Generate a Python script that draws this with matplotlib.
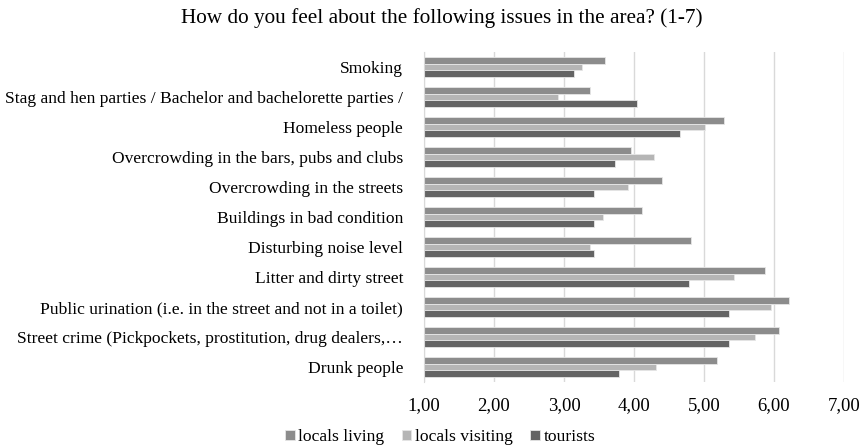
import matplotlib
matplotlib.use("Agg")
import matplotlib.pyplot as plt
import numpy as np
from matplotlib.ticker import FuncFormatter

plt.rcParams['font.family'] = ['Liberation Serif', 'DejaVu Serif']

categories = [
    "Smoking",
    "Stag and hen parties / Bachelor and bachelorette parties /",
    "Homeless people",
    "Overcrowding in the bars, pubs and clubs",
    "Overcrowding in the streets",
    "Buildings in bad condition",
    "Disturbing noise level",
    "Litter and dirty street",
    "Public urination (i.e. in the street and not in a toilet)",
    "Street crime (Pickpockets, prostitution, drug dealers,\u2026",
    "Drunk people",
]
series_names = ["locals living", "locals visiting", "tourists"]
locals_living = [3.59, 3.37, 5.29, 3.95, 4.40, 4.12, 4.82, 5.87, 6.21, 6.07, 5.18]
locals_visiting = [3.26, 2.92, 5.01, 4.29, 3.92, 3.56, 3.37, 5.43, 5.96, 5.73, 4.31]
tourists = [3.14, 4.04, 4.65, 3.73, 3.43, 3.43, 3.43, 4.79, 5.35, 5.35, 3.79]
colors = ["#8c8c8c", "#b5b5b5", "#646464"]
base = 1.0

fig = plt.figure(figsize=(8.6, 4.47), dpi=100)
ax = fig.add_axes([424/860, 1-382/447, (844-424)/860, (382-52)/447])

y = np.arange(len(categories))
h = 0.22
for i, (vals, c, name) in enumerate(zip([locals_living, locals_visiting, tourists], colors, series_names)):
    vals = np.array(vals)
    ax.barh(y + (i-1)*h, vals - base, left=base, height=h, color=c, label=name,
            edgecolor='#e6e6e6', linewidth=0.6, zorder=3)

ax.set_ylim(len(categories)-0.5, -0.5)
ax.set_xlim(1, 7)
ax.set_xticks([1, 2, 3, 4, 5, 6, 7])
ax.xaxis.set_major_formatter(FuncFormatter(lambda v, p: f"{v:.2f}".replace('.', ',')))
ax.set_yticks(y)
ax.set_yticklabels(categories, fontsize=12.6)
ax.tick_params(axis='x', labelsize=13.5, length=0, pad=11)
ax.tick_params(axis='y', length=0, pad=15)
ax.grid(axis='x', color='#d9d9d9', linewidth=1, zorder=0)
for s in ['top', 'right', 'bottom']:
    ax.spines[s].set_visible(False)
ax.spines['left'].set_color('#d9d9d9')
ax.spines['left'].set_zorder(4)

fig.text(442/860, 1-18/447, "How do you feel about the following issues in the area? (1-7)",
         ha='center', va='center', fontsize=15.3)

fig.legend(loc='center', bbox_to_anchor=(440/860, 1-437/447), ncol=3, frameon=False,
           fontsize=12.6, handlelength=0.55, handleheight=0.55, handletextpad=0.2, columnspacing=1.0)

fig.savefig("out.png", dpi=100)
